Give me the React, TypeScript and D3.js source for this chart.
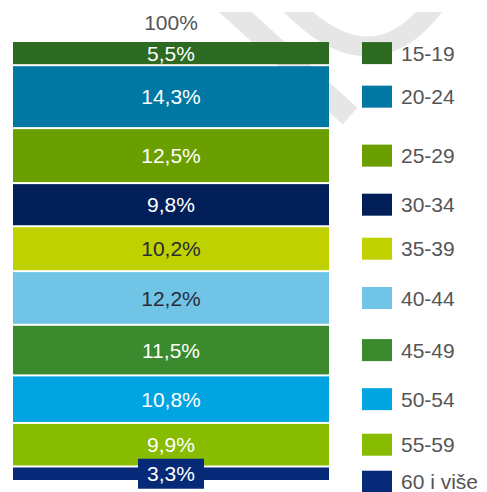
import { useEffect, useRef } from "react"
import * as d3 from "d3"

const groups = ["15-19", "20-24", "25-29", "30-34", "35-39", "40-44", "45-49", "50-54", "55-59", "60 i više"]
const shares = [5.5, 14.3, 12.5, 9.8, 10.2, 12.2, 11.5, 10.8, 9.9, 3.3]
const colors = ["#2d6a22", "#0078a3", "#6b9f00", "#031f5a", "#bfd200", "#70c5e6", "#3b8a2e", "#00a4e0", "#87bc00", "#062a78"]
const darkLabel = ["35-39", "40-44"]
const totalLabel = "100%"

const W = 487
const H = 492

export default function App() {
  const ref = useRef<SVGSVGElement>(null)

  useEffect(() => {
    const svg = d3.select(ref.current)
    svg.selectAll("*").remove()

    const font = "Liberation Sans, Arial, sans-serif"
    const fs = 21
    const y = d3.scaleLinear().domain([0, 100]).range([42, 482])
    const x0 = 13
    const x1 = 329
    const cx = (x0 + x1) / 2

    // faint watermark behind the bar
    svg.append("defs").append("clipPath").attr("id", "wmclip")
      .append("rect").attr("x", 0).attr("y", 12).attr("width", W).attr("height", H)
    const wm = svg.append("g").attr("clip-path", "url(#wmclip)")
    wm.append("path")
      .attr("d", "M222,0 L350,116")
      .attr("stroke", "#e6e6e6").attr("stroke-width", 22).attr("fill", "none")
    wm.append("path")
      .attr("d", "M286,0 Q370,90 434,6")
      .attr("stroke", "#e6e6e6").attr("stroke-width", 20).attr("fill", "none")

    let acc = 0
    const rows = shares.map((v, i) => {
      const start = acc
      acc += v
      return { group: groups[i], v, start, end: acc, color: colors[i] }
    })

    svg.append("text")
      .attr("x", cx).attr("y", 30)
      .attr("text-anchor", "middle")
      .attr("font-family", font).attr("font-size", fs)
      .attr("fill", "#555")
      .text(totalLabel)

    svg.append("g").selectAll("rect")
      .data(rows).enter().append("rect")
      .attr("x", x0)
      .attr("y", (d) => y(d.start))
      .attr("width", x1 - x0)
      .attr("height", (d) => y(d.end) - y(d.start) - 2)
      .attr("fill", (d) => d.color)

    // small segment gets a label box
    const last = rows[rows.length - 1]
    const lastMid = (y(last.start) + y(last.end) - 2) / 2
    svg.append("rect")
      .attr("x", cx - 33).attr("y", lastMid - 15)
      .attr("width", 66).attr("height", 30)
      .attr("fill", last.color)

    svg.append("g").selectAll("text")
      .data(rows).enter().append("text")
      .attr("x", cx)
      .attr("y", (d) => (y(d.start) + y(d.end) - 2) / 2)
      .attr("dy", "0.36em")
      .attr("text-anchor", "middle")
      .attr("font-family", font).attr("font-size", fs)
      .attr("fill", (d) => (darkLabel.includes(d.group) ? "#2a2a3a" : "#fff"))
      .text((d) => d.v.toFixed(1).replace(".", ",") + "%")

    // legend aligned to segment centres, pushed apart when crowded
    let prev = -Infinity
    const legY = rows.map((d) => {
      const c = Math.max((y(d.start) + y(d.end) - 2) / 2, prev + 37)
      prev = c
      return c
    })
    const leg = svg.append("g").selectAll("g")
      .data(rows).enter().append("g")
      .attr("transform", (_, i) => `translate(362,${legY[i]})`)
    leg.append("rect")
      .attr("x", 0).attr("y", -11)
      .attr("width", 30).attr("height", 22)
      .attr("fill", (d) => d.color)
    leg.append("text")
      .attr("x", 39).attr("y", 0).attr("dy", "0.36em")
      .attr("font-family", font).attr("font-size", fs)
      .attr("fill", "#555")
      .text((d) => d.group)
  }, [])

  return (
    <div style={{ position: "absolute", left: 0, top: 0 }}>
      <svg ref={ref} width={W} height={H} style={{ display: "block", background: "#fff" }} />
    </div>
  )
}
